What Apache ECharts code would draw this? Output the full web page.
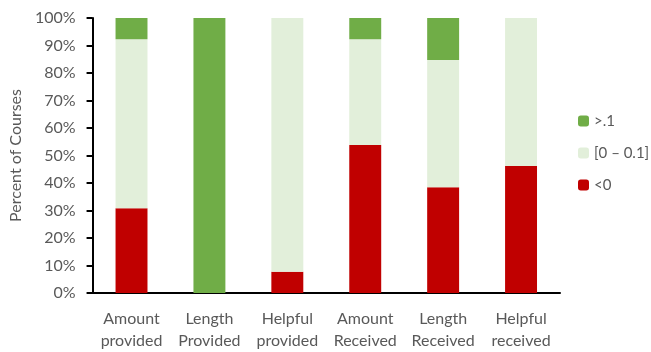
<!DOCTYPE html>
<html>
<head>
<meta charset="utf-8">
<script src="https://cdn.jsdelivr.net/npm/echarts@6/dist/echarts.min.js"></script>
<style>
  html, body { margin: 0; padding: 0; background: #fff; }
  #chart { width: 651px; height: 352px; }
</style>
</head>
<body>
<div id="chart"></div>
<script>
// categories and stacked shares (percent of courses)
const categories = ['Amount\nprovided', 'Length\nProvided', 'Helpful\nprovided', 'Amount\nReceived', 'Length\nReceived', 'Helpful\nreceived']
const negative = [30.8, 0, 7.7, 53.8, 38.5, 46.2]
const small = [61.5, 0, 92.3, 38.5, 46.2, 53.8]
const large = [7.7, 100, 0, 7.7, 15.3, 0]

const font = 'Lato, "Open Sans", sans-serif'
const grey = '#595959'

const chart = echarts.init(document.getElementById('chart'))
chart.setOption({
  animation: false,
  grid: { left: 91, right: 91, top: 18, bottom: 59 },
  legend: {
    orient: 'vertical',
    left: 573,
    top: 108,
    itemWidth: 11,
    itemHeight: 11,
    itemGap: 16,
    textStyle: { color: grey, fontSize: 15, lineHeight: 16, fontFamily: font },
    data: ['>.1', '[0 – 0.1]', '<0']
  },
  xAxis: {
    type: 'category',
    data: categories,
    axisLine: { lineStyle: { color: '#000', width: 2 } },
    axisTick: { show: false },
    axisLabel: { interval: 0, color: grey, fontSize: 16, fontFamily: font, margin: 15, lineHeight: 22 }
  },
  yAxis: {
    type: 'value',
    min: 0,
    max: 100,
    interval: 10,
    name: 'Percent of Courses',
    nameLocation: 'middle',
    nameGap: 66,
    nameTextStyle: { color: grey, fontSize: 16, fontFamily: font },
    axisLine: { show: true, lineStyle: { color: '#000', width: 2 } },
    axisTick: { show: true, length: 6, lineStyle: { color: '#000', width: 2 } },
    splitLine: { show: false },
    axisLabel: { color: grey, fontSize: 16, fontFamily: font, margin: 17, formatter: '{value}%' }
  },
  series: [
    { name: '<0', type: 'bar', stack: 'all', data: negative, barWidth: '41%', itemStyle: { color: '#C00000' } },
    { name: '[0 – 0.1]', type: 'bar', stack: 'all', data: small, itemStyle: { color: '#E2EFDA' } },
    { name: '>.1', type: 'bar', stack: 'all', data: large, itemStyle: { color: '#70AD47' } }
  ]
})
</script>
</body>
</html>
